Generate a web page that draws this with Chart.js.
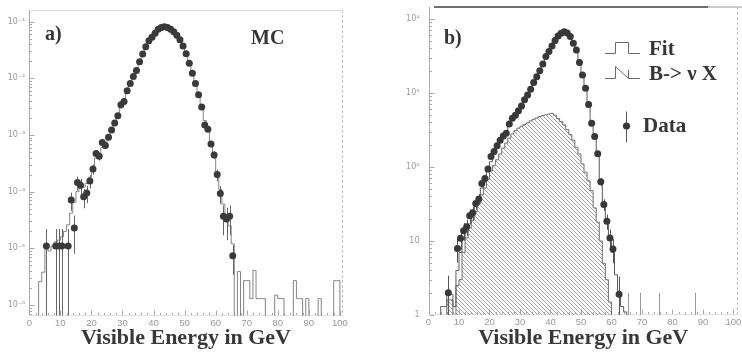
<!DOCTYPE html>
<html><head><meta charset="utf-8">
<script src="https://cdn.jsdelivr.net/npm/chart.js@4.4.0/dist/chart.umd.min.js"></script>
<style>
html,body{margin:0;padding:0;background:#fff;}
#wrap{position:relative;width:742px;height:353px;overflow:hidden;background:#fff;}
.pan{position:absolute;top:0;width:371px;height:353px;}
canvas{display:block;}
</style></head><body>
<div id="wrap">
<div class="pan" style="left:0"><canvas id="ca" width="371" height="353"></canvas></div>
<div class="pan" style="left:371px"><canvas id="cb" width="371" height="353"></canvas></div>
</div>
<script>
// ---------- data ----------
const xTickValues = [0,10,20,30,40,50,60,70,80,90,100];
const yTickValuesA = [1e-6,1e-5,1e-4,1e-3,1e-2,1e-1];
const yTickValuesB = [1,10,100,1000,10000];

// Panel a: MC histogram, 1 GeV bins, first bin lower edge = mcStartA
const mcStartA = 3;
const mcHistA = [2.6e-6,3.8e-6,1.1e-5,9e-6,1.1e-5,1.3e-5,1.4e-5,1.6e-5,2.0e-5,2.6e-5,
 4.2e-5,6.5e-5,1.0e-4,1.15e-4,1.2e-4,1.4e-4,1.8e-4,2.7e-4,3.9e-4,4.6e-4,
 6.0e-4,7.2e-4,9.0e-4,1.2e-3,1.6e-3,2.2e-3,3.0e-3,4.1e-3,5.7e-3,7.9e-3,
 1.06e-2,1.42e-2,1.95e-2,2.65e-2,3.55e-2,4.55e-2,5.4e-2,6.3e-2,7.2e-2,7.85e-2,
 8.1e-2,7.95e-2,7.35e-2,6.6e-2,5.7e-2,4.7e-2,3.7e-2,2.7e-2,1.8e-2,1.2e-2,
 8.0e-3,5.2e-3,3.3e-3,1.8e-3,1.15e-3,7.2e-4,4.2e-4,2.2e-4,1.1e-4,6.0e-5,
 4.0e-5,2.5e-5,1.2e-5,0,3.9e-6,0,2.7e-6,2.7e-6,1.3e-6,4.1e-6,
 1.3e-6,1.3e-6,1.3e-6,0,0,0,1.5e-6,1.3e-6,1.3e-6,0,
 0,0,2.7e-6,1.3e-6,1.3e-6,0,1.3e-6,0,0,0,
 1.3e-6,0,0,0,0,2.7e-6,2.7e-6];

// Panel a: "data" points (energy, value, error)
const pointsEA = [5.5,8.5,9.5,10.5,12.5,13.5,14.5,15.5,16.5,17.5,18.5,19.5,20.5,21.5,22.5,23.5,24.5,25.5,
 26.5,27.5,28.5,29.5,30.5,31.5,32.5,33.5,34.5,35.5,36.5,37.5,38.5,39.5,40.5,41.5,42.5,43.5,44.5,45.5,
 46.5,47.5,48.5,49.5,50.5,51.5,52.5,53.5,54.5,55.5,56.5,57.5,58.5,59.5,60.5,61.5,62.5,63.5,64.5,65.5];
const pointsVA = [1.1e-5,1.1e-5,1.1e-5,1.1e-5,1.1e-5,7.1e-5,2.3e-5,1.45e-4,1.3e-4,8.1e-5,9.5e-5,1.55e-4,
 2.5e-4,4.7e-4,4.2e-4,7.4e-4,6.5e-4,9.1e-4,1.23e-3,1.62e-3,2.18e-3,3.4e-3,3.9e-3,6.0e-3,8.1e-3,1.07e-2,
 1.37e-2,1.96e-2,2.68e-2,3.6e-2,4.6e-2,5.3e-2,6.2e-2,7.3e-2,7.9e-2,8.1e-2,7.9e-2,7.3e-2,6.6e-2,5.75e-2,
 4.8e-2,3.7e-2,2.7e-2,1.85e-2,1.23e-2,8.1e-3,5.1e-3,3.1e-3,1.5e-3,1.26e-3,6.9e-4,4.45e-4,2.0e-4,9.3e-5,
 3.7e-5,3.3e-5,3.7e-5,7.4e-6];
const pointsErrA = [1.1e-5,1.1e-5,1.1e-5,1.1e-5,1.1e-5,2.5e-5,1.5e-5,4e-5,3.8e-5,3e-5,3.2e-5,4.1e-5,
 5.2e-5,7.2e-5,6.8e-5,9e-5,8.5e-5,1.0e-4,1.2e-4,1.3e-4,1.5e-4,1.9e-4,2.1e-4,2.6e-4,3.0e-4,3.4e-4,
 3.9e-4,4.6e-4,5.4e-4,6.3e-4,7.1e-4,7.6e-4,8.3e-4,9e-4,9.3e-4,9.4e-4,9.3e-4,9e-4,8.5e-4,8e-4,
 7.3e-4,6.4e-4,5.4e-4,4.5e-4,3.7e-4,3.0e-4,2.4e-4,1.8e-4,1.3e-4,1.2e-4,8.7e-5,7e-5,4.7e-5,3.2e-5,
 2.0e-5,1.9e-5,2.0e-5,4e-6];

// Panel b: Fit histogram and B->nu X histogram (1 GeV bins)
const fitStartB = 4;
const fitHistB = [1.3,1.3,1.9,1.9,1.3,4,7,10.5,13.5,17,
 24,30,38,52,66,88,118,150,180,215,
 250,295,360,430,490,570,660,790,930,1100,
 1350,1650,2000,2450,3050,3700,4400,5200,5900,6400,
 6650,6400,5800,4800,3800,2600,1750,1150,700,420,
 260,150,68,33,18,11.5,7,3.5,1.9,1.3,1.1];
const bnuStartB = 6;
const bnuHistB = [1.6,1.6,0,2.5,3,7,11,15,19,25,
 32,42,52,68,88,105,125,150,180,210,
 245,280,310,335,355,375,395,420,440,460,
 480,495,505,520,530,500,450,410,370,320,
 275,230,185,150,110,85,65,48,28,18,
 10,5,3,1.5];

// Panel b: data points
const pointsEB = [6.5,9.5,10.5,11.5,12.5,13.5,14.5,15.5,16.5,17.5,18.5,19.5,20.5,21.5,22.5,23.5,24.5,25.5,
 26.5,27.5,28.5,29.5,30.5,31.5,32.5,33.5,34.5,35.5,36.5,37.5,38.5,39.5,40.5,41.5,42.5,43.5,44.5,45.5,
 46.5,47.5,48.5,49.5,50.5,51.5,52.5,53.5,54.5,55.5,56.5,57.5,58.5,59.5,60.5,62.5];
const pointsVB = [2,7.9,10.9,13.8,15.6,22,24,32,37,60,70,94,138,162,193,230,262,285,
 380,456,500,573,665,808,935,1120,1380,1660,2000,2460,3100,3620,4320,5100,5890,6400,6700,6450,
 5800,4700,3800,2570,1750,1160,700,390,258,151,63,31,18.5,11,7.8,1.9];
const pointsErrB = [1.4,2.8,3.3,3.7,3.9,4.7,4.9,5.7,6.1,7.7,8.4,9.7,11.7,12.7,13.9,15.2,16.2,16.9,
 19.5,21.4,22.4,23.9,25.8,28.4,30.6,33.5,37.1,40.7,44.7,49.6,55.7,60.2,65.7,71.4,76.7,80,81.9,80.3,
 76.2,68.6,61.6,50.7,41.8,34.1,26.5,19.7,16.1,12.3,7.9,5.6,4.3,3.3,2.8,1.4];
// single-event bins (value 1, error 1) whose markers sit on the axis
const singleEB = [65.5,69.5,75.5,87.5];
const singleVB = [1,1,1,1];
const singleErrB = [1,1,1,1];

// ---------- helpers ----------
Chart.defaults.font.family = 'Liberation Sans';
const SUP = {'-':'\u207B','0':'\u2070','1':'\u00B9','2':'\u00B2','3':'\u00B3','4':'\u2074','5':'\u2075','6':'\u2076','7':'\u2077','8':'\u2078','9':'\u2079'};
function powLabel(v){
  const e = Math.round(Math.log10(v));
  if (e === 0) return '1';
  if (e === 1) return '10';
  return '10' + String(e).split('').map(c => SUP[c]).join('');
}
function histPoints(start, vals, floor){
  const pts = [{x:start, y:floor}];
  vals.forEach((v,i) => pts.push({x:start+i, y: v > 0 ? v : floor}));
  pts.push({x:start+vals.length, y:floor});
  return pts;
}
function zipPts(xs, ys){ return xs.map((x,i) => ({x:x, y:ys[i]})); }

const errorBarPlugin = {
  id:'errbars',
  beforeDatasetDraw(chart, args){
    const ds = chart.data.datasets[args.index];
    if (!ds.errors) return;
    const ctx = chart.ctx, ca = chart.chartArea, xs = chart.scales.x, ys = chart.scales.y;
    ctx.save();
    ctx.beginPath(); ctx.rect(ca.left, ca.top, ca.right-ca.left, ca.bottom-ca.top); ctx.clip();
    ctx.strokeStyle = ds.errColor || '#555'; ctx.lineWidth = 1;
    ds.data.forEach((p,i) => {
      const e = ds.errors[i];
      const lo = p.y - e, hi = p.y + e;
      const px = Math.round(xs.getPixelForValue(p.x)) + 0.5;
      const y1 = lo > 0 ? ys.getPixelForValue(lo) : ca.bottom;
      const y2 = ys.getPixelForValue(hi);
      ctx.beginPath(); ctx.moveTo(px, y1); ctx.lineTo(px, y2); ctx.stroke();
    });
    ctx.restore();
  }
};

function axesPlugin(opts){
  return {
    id:'axesdeco',
    beforeDatasetsDraw(chart){
      const ctx = chart.ctx, ca = chart.chartArea, xs = chart.scales.x, ys = chart.scales.y;
      ctx.save();
      ctx.strokeStyle = '#a8a8a8'; ctx.lineWidth = 1;
      const lx = Math.round(ca.left) + 0.5;
      ctx.beginPath(); ctx.moveTo(lx, ca.top); ctx.lineTo(lx, ca.bottom); ctx.stroke();
      const by = Math.round(ca.bottom) - 0.5;
      for (let v = 0; v <= 100; v += 2) {
        const px = Math.round(xs.getPixelForValue(v)) + 0.5;
        const len = (v % 10 === 0) ? 5 : 2.5;
        ctx.beginPath(); ctx.moveTo(px, by); ctx.lineTo(px, by - len); ctx.stroke();
      }
      ctx.strokeStyle = '#e2e2e2';
      ctx.beginPath(); ctx.moveTo(ca.left, by); ctx.lineTo(ca.right, by); ctx.stroke();
      ctx.strokeStyle = '#a8a8a8';
      const dmin = Math.floor(Math.log10(ys.min)), dmax = Math.ceil(Math.log10(ys.max));
      for (let d = dmin; d <= dmax; d++) {
        for (let m = 1; m <= 9; m++) {
          const v = m * Math.pow(10, d);
          if (v < ys.min || v > ys.max) continue;
          const py = Math.round(ys.getPixelForValue(v)) + 0.5;
          const len = m === 1 ? 5 : 2.5;
          ctx.beginPath(); ctx.moveTo(lx, py); ctx.lineTo(lx + len, py); ctx.stroke();
        }
      }
      ctx.strokeStyle = '#c4c4c4'; ctx.setLineDash([3,2]);
      const rx = Math.round(ca.right) - 0.5;
      ctx.beginPath(); ctx.moveTo(rx, ca.top); ctx.lineTo(rx, ca.bottom); ctx.stroke();
      ctx.setLineDash([]);
      if (opts.heavyTop) {
        ctx.strokeStyle = '#6e6e6e'; ctx.lineWidth = 2;
        ctx.beginPath(); ctx.moveTo(opts.heavyTop[0], ca.top); ctx.lineTo(opts.heavyTop[1], ca.top); ctx.stroke();
        ctx.strokeStyle = '#9a9a9a'; ctx.lineWidth = 1;
        ctx.beginPath(); ctx.moveTo(opts.heavyTop[1], ca.top); ctx.lineTo(chart.width, ca.top); ctx.stroke();
      } else {
        ctx.strokeStyle = '#dcdcdc';
        ctx.beginPath(); ctx.moveTo(ca.left, Math.round(ca.top)+0.5); ctx.lineTo(ca.right, Math.round(ca.top)+0.5); ctx.stroke();
      }
      ctx.restore();
    }
  };
}

function textPlugin(draw){
  return { id:'annot', afterDraw(chart){ const ctx = chart.ctx; ctx.save(); draw(ctx); ctx.restore(); } };
}

function baseOptions(o){
  return {
    responsive:false, animation:false, devicePixelRatio:1, events:[],
    layout:{padding:{left:0, right:o.padRight, top:o.padTop, bottom:0}},
    plugins:{legend:{display:false}, tooltip:{enabled:false}},
    scales:{
      x:{
        type:'linear', min:0, max:o.xMax,
        afterBuildTicks:(s) => { s.ticks = xTickValues.map(v => ({value:v})); },
        afterFit:(s) => { s.height = o.xHeight; s.paddingLeft = 0; s.paddingRight = 0; },
        grid:{display:false, drawTicks:false}, border:{display:false},
        ticks:{font:{family:'Liberation Sans', size:9.5}, color:'#9a9a9a', padding:2, maxRotation:0, autoSkip:false},
        title:{display:true, text:'Visible Energy in GeV', color:'#383838',
               font:{family:'Liberation Serif', size:22, weight:'bold'}, padding:{top:0, bottom:1}}
      },
      y:{
        type:'logarithmic', min:o.yMin, max:o.yMax,
        afterBuildTicks:(s) => { s.ticks = o.yTicks.map(v => ({value:v})); },
        afterFit:(s) => { s.width = o.yWidth; s.paddingTop = 0; s.paddingBottom = 0; },
        grid:{display:false, drawTicks:false}, border:{display:false},
        ticks:{font:{family:'DejaVu Sans', size:8}, color:'#9a9a9a', padding:o.yPad, autoSkip:false,
               callback:(v) => powLabel(v)}
      }
    }
  };
}

const TXT = '#363636';
const SERIF = '"Liberation Serif", "Times New Roman", serif';

// ---------- Panel a ----------
new Chart(document.getElementById('ca'), {
  type:'scatter',
  data:{datasets:[
    {type:'scatter', data:zipPts(pointsEA, pointsVA), errors:pointsErrA, errColor:'#666',
     pointRadius:3.5, pointHoverRadius:3.5, backgroundColor:'#3a3a3a', borderWidth:0},
    {type:'line', data:histPoints(mcStartA, mcHistA, 1e-9), stepped:true, borderColor:'#858585',
     borderWidth:1, pointRadius:0, fill:false, tension:0}
  ]},
  options: baseOptions({padRight:28.3, padTop:10, xMax:100.9, xHeight:37.3,
    yMin:6.5e-7, yMax:0.16, yTicks:yTickValuesA, yWidth:29.3, yPad:4}),
  plugins:[errorBarPlugin, axesPlugin({}), textPlugin((ctx) => {
    ctx.fillStyle = TXT; ctx.font = 'bold 20px ' + SERIF; ctx.textBaseline = 'alphabetic';
    ctx.fillText('a)', 45, 40);
    ctx.fillText('MC', 251, 44);
  })]
});

// ---------- Panel b ----------
const cbCtx = document.getElementById('cb').getContext('2d');
function hatchPattern(){
  const c = document.createElement('canvas'); c.width = 4; c.height = 4;
  const g = c.getContext('2d');
  g.strokeStyle = '#8a8a8a'; g.lineWidth = 0.8;
  g.beginPath();
  g.moveTo(0,0); g.lineTo(4,4);
  g.moveTo(-1,3); g.lineTo(1,5);
  g.moveTo(3,-1); g.lineTo(5,1);
  g.stroke();
  return cbCtx.createPattern(c, 'repeat');
}

new Chart(cbCtx, {
  type:'scatter',
  data:{datasets:[
    {type:'scatter', data:zipPts(pointsEB, pointsVB), errors:pointsErrB, errColor:'#555',
     pointRadius:3.5, pointHoverRadius:3.5, backgroundColor:'#383838', borderWidth:0},
    {type:'scatter', data:zipPts(singleEB, singleVB), errors:singleErrB, errColor:'#999',
     pointRadius:0, pointHoverRadius:0},
    {type:'line', data:histPoints(fitStartB, fitHistB, 1e-3), stepped:true, borderColor:'#5a5a5a',
     borderWidth:1, pointRadius:0, fill:false, tension:0},
    {type:'line', data:histPoints(bnuStartB, bnuHistB, 1e-3), stepped:true, borderColor:'#707070',
     borderWidth:1, pointRadius:0, fill:'start', backgroundColor:hatchPattern(), tension:0}
  ]},
  options: baseOptions({padRight:4, padTop:7, xMax:101.5, xHeight:38,
    yMin:1, yMax:14500, yTicks:yTickValuesB, yWidth:57.5, yPad:9}),
  plugins:[errorBarPlugin, axesPlugin({heavyTop:[63, 337]}), textPlugin((ctx) => {
    ctx.fillStyle = TXT; ctx.font = 'bold 20px ' + SERIF; ctx.textBaseline = 'alphabetic';
    ctx.fillText('b)', 73, 44);
    ctx.font = 'bold 21px ' + SERIF;
    ctx.fillText('Fit', 278, 55);
    ctx.fillText('B-> \u03BD X', 278, 80);
    ctx.fillText('Data', 272, 131.5);
    ctx.strokeStyle = '#6a6a6a'; ctx.lineWidth = 1;
    ctx.beginPath();
    ctx.moveTo(234, 53.5); ctx.lineTo(244.5, 53.5); ctx.lineTo(244.5, 42.5);
    ctx.lineTo(257.5, 42.5); ctx.lineTo(257.5, 53.5); ctx.lineTo(269, 53.5);
    ctx.stroke();
    ctx.beginPath();
    ctx.moveTo(234, 78.5); ctx.lineTo(244.5, 78.5); ctx.lineTo(244.5, 66.5);
    ctx.lineTo(257.5, 78.5); ctx.lineTo(269, 78.5);
    ctx.moveTo(257.5, 78.5); ctx.lineTo(257.5, 70);
    ctx.stroke();
    ctx.strokeStyle = '#555';
    ctx.beginPath(); ctx.moveTo(255.5, 111.5); ctx.lineTo(255.5, 142); ctx.stroke();
    ctx.fillStyle = '#383838';
    ctx.beginPath(); ctx.arc(255.5, 126, 3.6, 0, Math.PI*2); ctx.fill();
  })]
});
</script>
</body></html>
